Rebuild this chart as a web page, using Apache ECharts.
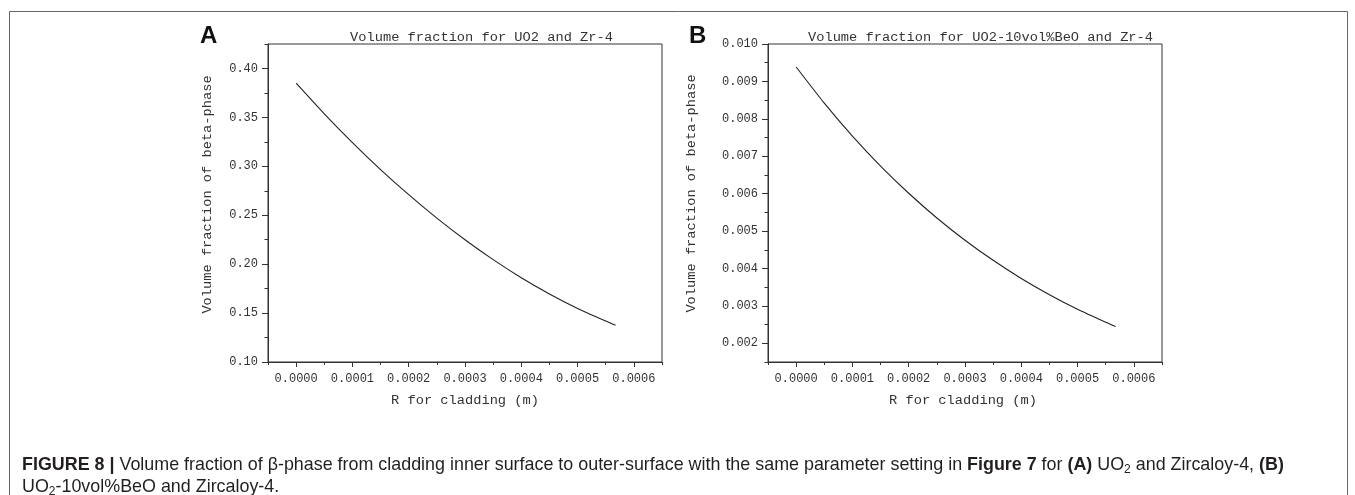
<!DOCTYPE html>
<html><head><meta charset="utf-8">
<script src="https://cdn.jsdelivr.net/npm/echarts@6/dist/echarts.min.js"></script>
<style>html,body{margin:0;padding:0;background:#fff}#c{width:1355px;height:495px}</style>
</head><body><div id="c"></div>
<script>
// ---- data ----
const rValues = [0, 0.00005, 0.0001, 0.00015, 0.0002, 0.00025, 0.0003, 0.00035, 0.0004, 0.00045, 0.0005, 0.00055, 0.0005675];
const fractionUO2 = [0.385, 0.3537, 0.3243, 0.2967, 0.2710, 0.2470, 0.2249, 0.2046, 0.1861, 0.1695, 0.1547, 0.1418, 0.1376];
const fractionBeO = [0.009385, 0.008419, 0.007538, 0.006737, 0.006010, 0.005350, 0.004755, 0.004218, 0.003733, 0.003300, 0.002910, 0.002562, 0.002449];
const xMajorTicks = [0, 0.0001, 0.0002, 0.0003, 0.0004, 0.0005, 0.0006];
const xMinorTicks = [-0.00005, 0.00005, 0.00015, 0.00025, 0.00035, 0.00045, 0.00055, 0.00065];
const yMajorTicksA = [0.10, 0.15, 0.20, 0.25, 0.30, 0.35, 0.40];
const yMinorTicksA = [0.125, 0.175, 0.225, 0.275, 0.325, 0.375, 0.425];
const yMajorTicksB = [0.002, 0.003, 0.004, 0.005, 0.006, 0.007, 0.008, 0.009, 0.010];
const yMinorTicksB = [0.0015, 0.0025, 0.0035, 0.0045, 0.0055, 0.0065, 0.0075, 0.0085, 0.0095];
const titleA = 'Volume fraction for UO2 and Zr-4';
const titleB = 'Volume fraction for UO2-10vol%BeO and Zr-4';
const yName = 'Volume fraction of beta-phase';
const xName = 'R for cladding (m)';

const MONO = '"Liberation Mono", "DejaVu Sans Mono", monospace';
const SANS = '"Liberation Sans", Arial, sans-serif';
const AX = '#333';
const TXT = '#333';

const grids = [
  {left: 268, top: 44, width: 394, height: 318},
  {left: 768, top: 44, width: 394, height: 318}
];

function xAxesFor(g) {
  const base = {type: 'value', gridIndex: g, min: -0.00005, max: 0.00065, position: 'bottom', splitLine: {show: false}};
  return [
    Object.assign({}, base, {
      axisLine: {show: true, onZero: false, lineStyle: {color: AX, width: 1}},
      axisTick: {show: true, customValues: xMajorTicks, length: 5, lineStyle: {color: AX, width: 1}},
      axisLabel: {show: true, customValues: xMajorTicks, formatter: v => v.toFixed(4), fontFamily: MONO, fontSize: 12, color: TXT, margin: 11}
    }),
    Object.assign({}, base, {
      axisLine: {show: false, onZero: false},
      axisTick: {show: true, customValues: xMinorTicks, length: 3, lineStyle: {color: AX, width: 1}},
      axisLabel: {show: false}
    })
  ];
}
function yAxesFor(g, min, max, major, minor, digits) {
  const base = {type: 'value', gridIndex: g, min: min, max: max, position: 'left', splitLine: {show: false}};
  return [
    Object.assign({}, base, {
      axisLine: {show: true, onZero: false, lineStyle: {color: AX, width: 1}},
      axisTick: {show: true, customValues: major, length: 6, lineStyle: {color: AX, width: 1}},
      axisLabel: {show: true, customValues: major, formatter: v => v.toFixed(digits), fontFamily: MONO, fontSize: 12, color: TXT, margin: 10}
    }),
    Object.assign({}, base, {
      axisLine: {show: false, onZero: false},
      axisTick: {show: true, customValues: minor, length: 3.5, lineStyle: {color: AX, width: 1}},
      axisLabel: {show: false}
    })
  ];
}

const lineStyle = {color: '#222', width: 1.1};
function pairs(ys) { return rValues.map((r, i) => [r, ys[i]]); }

const CAP = 17.9;
const capBase = {fontFamily: SANS, fontSize: CAP, fill: '#231f20', lineHeight: 22};
const rich = {
  n: Object.assign({}, capBase),
  b: Object.assign({}, capBase, {fontWeight: 'bold'}),
  s: {fontFamily: SANS, fontSize: 12, fill: '#231f20', lineHeight: 13, verticalAlign: 'bottom'}
};

function txt(x, y, text, opts) {
  return {type: 'text', x: x, y: y, rotation: opts.rotation || 0, silent: true,
    style: Object.assign({text: text, fill: TXT, fontFamily: MONO, fontSize: 13.7, align: 'center', verticalAlign: 'middle'}, opts.style || {})};
}

const option = {
  animation: false,
  backgroundColor: '#fff',
  grid: grids.map(g => Object.assign({show: true, borderColor: AX, borderWidth: 1, backgroundColor: 'transparent', containLabel: false}, g)),
  xAxis: [].concat(xAxesFor(0), xAxesFor(1)),
  yAxis: [].concat(
    yAxesFor(0, 0.10, 0.425, yMajorTicksA, yMinorTicksA, 2),
    yAxesFor(1, 0.0015, 0.010, yMajorTicksB, yMinorTicksB, 3)
  ),
  series: [
    {type: 'line', xAxisIndex: 0, yAxisIndex: 0, data: pairs(fractionUO2), showSymbol: false, symbol: 'none', lineStyle: lineStyle, smooth: 0.2},
    {type: 'line', xAxisIndex: 2, yAxisIndex: 2, data: pairs(fractionBeO), showSymbol: false, symbol: 'none', lineStyle: lineStyle, smooth: 0.2}
  ],
  graphic: [
    {type: 'rect', silent: true, shape: {x: 9.5, y: 11.5, width: 1338, height: 520}, style: {fill: 'none', stroke: '#666', lineWidth: 1}},
    txt(481.5, 37.5, titleA, {}),
    txt(980.5, 37.5, titleB, {}),
    txt(200, 36.5, 'A', {style: {align: 'left', fontFamily: SANS, fontWeight: 'bold', fontSize: 24, fill: '#111'}}),
    txt(689, 36.5, 'B', {style: {align: 'left', fontFamily: SANS, fontWeight: 'bold', fontSize: 24, fill: '#111'}}),
    txt(207, 194.5, yName, {rotation: Math.PI / 2}),
    txt(691, 193.5, yName, {rotation: Math.PI / 2}),
    txt(465, 400, xName, {}),
    txt(963, 400, xName, {}),
    {type: 'text', x: 22, y: 465, silent: true, style: {
      text: '{b|FIGURE 8 |}{n| Volume fraction of β-phase from cladding inner surface to outer-surface with the same parameter setting in }{b|Figure 7}{n| for }{b|(A)}{n| UO}{s|2}{n| and Zircaloy-4, }{b|(B)}',
      rich: rich, fontFamily: SANS, fontSize: CAP, fill: '#231f20', align: 'left', verticalAlign: 'middle'}},
    {type: 'text', x: 22, y: 487, silent: true, style: {
      text: '{n|UO}{s|2}{n|-10vol%BeO and Zircaloy-4.}',
      rich: rich, fontFamily: SANS, fontSize: CAP, fill: '#231f20', align: 'left', verticalAlign: 'middle'}}
  ]
};

const chart = echarts.init(document.getElementById('c'), null, {renderer: 'canvas'});
chart.setOption(option);
</script>
</body></html>
